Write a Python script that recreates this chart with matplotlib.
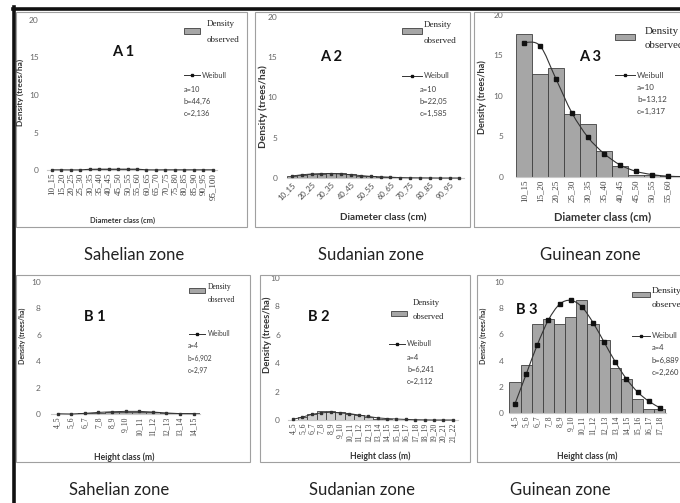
import numpy as np
import matplotlib.pyplot as plt
from matplotlib.patches import Rectangle, PathPatch
from matplotlib.path import Path
from matplotlib.lines import Line2D

# =========================
# DATA
# =========================
diam_classes = ['10_15', '15_20', '20_25', '25_30', '30_35', '35_40', '40_45', '45_50', '50_55',
                '55_60', '60_65', '65_70', '70_75', '75_80', '80_85', '85_90', '90_95', '95_100']
height_classes = ['4_5', '5_6', '6_7', '7_8', '8_9', '9_10', '10_11', '11_12', '12_13',
                  '13_14', '14_15', '15_16', '16_17', '17_18', '18_19', '19_20', '20_21', '21_22']

a1_obs = [0, 0, 0, 0, 0.1, 0.12, 0.12, 0.12, 0.12, 0.12, 0, 0, 0, 0, 0, 0, 0, 0]
a1_weib = [0.03, 0.03, 0.02, 0.02, 0.1, 0.12, 0.12, 0.12, 0.12, 0.12, 0.03, 0.02, 0.03, 0.03, 0.03, 0.03, 0.03, 0.03]
a2_obs = [0.3, 0.35, 0.55, 0.5, 0.6, 0.65, 0.45, 0.3, 0.2, 0.15, 0.1, 0.05, 0.05, 0.05, 0, 0, 0, 0]
a2_weib = [0.25, 0.4, 0.5, 0.55, 0.55, 0.5, 0.4, 0.3, 0.2, 0.15, 0.1, 0.05, 0.03, 0.02, 0.01, 0, 0, 0]
a3_obs = [17.7, 12.7, 13.5, 7.8, 6.5, 3.2, 1.3, 0.3, 0.2, 0.1, 0.05, 0, 0, 0, 0, 0, 0, 0]
a3_weib = [16.6, 16.2, 12.1, 7.9, 4.9, 2.9, 1.5, 0.7, 0.3, 0.1, 0.05, 0.02, 0, 0, 0, 0, 0, 0]

b1_obs = [0, 0, 0.05, 0.1, 0.12, 0.15, 0.18, 0.15, 0.08, 0.05, 0.05]
b1_weib = [0.02, 0.0, 0.05, 0.12, 0.17, 0.2, 0.2, 0.15, 0.08, 0.03, 0.02]
b2_obs = [0, 0.2, 0.4, 0.65, 0.6, 0.55, 0.45, 0.35, 0.2, 0.1, 0.05, 0.03, 0.02, 0, 0, 0, 0, 0]
b2_weib = [0.05, 0.2, 0.4, 0.5, 0.55, 0.5, 0.45, 0.35, 0.25, 0.15, 0.1, 0.07, 0.04, 0.02, 0.01, 0, 0, 0]
b3_obs = [2.4, 3.7, 6.8, 7.15, 6.8, 7.3, 8.65, 6.8, 5.6, 3.4, 2.6, 1.1, 0.3, 0.3]
b3_weib = [0.7, 2.95, 5.2, 7.1, 8.3, 8.6, 8.1, 6.9, 5.4, 3.9, 2.6, 1.6, 0.9, 0.4]

a1_params = ['a=10', 'b=44,76', 'c=2,136']
a2_params = ['a=10', 'b=22,05', 'c=1,585']
a3_params = ['a=10', 'b=13,12', 'c=1,317']
b1_params = ['a=4', 'b=6,902', 'c=2,97']
b2_params = ['a=4', 'b=6,241', 'c=2,112']
b3_params = ['a=4', 'b=6,889', 'c=2,260']

zones = ['Sahelian zone', 'Sudanian zone', 'Guinean zone']

# =========================
# HELPERS (pixel layout)
# =========================
W, H = 680, 503
SANS = 'Lato'
SERIF = 'Liberation Serif'
BAR = '#a6a6a6'
EDGE = '#3f3f3f'
TXT = '#404040'

fig = plt.figure(figsize=(W / 100, H / 100), dpi=100)


def fx(x):
    return x / W


def fy(y):
    return 1 - y / H


def ftext(x, y, s, **kw):
    kw.setdefault('family', SANS)
    kw.setdefault('va', 'center')
    fig.text(fx(x), fy(y), s, **kw)


def frame(x0, y0, x1, y1):
    fig.add_artist(Rectangle((fx(x0), fy(y1)), fx(x1) - fx(x0), fy(y0) - fy(y1),
                             transform=fig.transFigure, fill=False, ec='#a0a0a0', lw=0.8))


def smooth_line(ax, y, **kw):
    # Excel style smoothed line (Catmull-Rom -> cubic bezier)
    x = np.arange(len(y), dtype=float)
    p = np.column_stack([x, y])
    verts, codes = [p[0]], [Path.MOVETO]
    for i in range(len(p) - 1):
        p0 = p[max(i - 1, 0)]
        p3 = p[min(i + 2, len(p) - 1)]
        verts += [p[i] + (p[i + 1] - p0) / 6, p[i + 1] - (p3 - p[i]) / 6, p[i + 1]]
        codes += [Path.CURVE4] * 3
    ax.add_patch(PathPatch(Path(verts, codes), fill=False, **kw))


def panel(box, labels, obs, weib, ymax, step, tick_kw, ypad, bar_color=BAR, smooth=False, every=1):
    x0, y0, x1, y1 = box
    ax = fig.add_axes([fx(x0), fy(y1), fx(x1) - fx(x0), fy(y0) - fy(y1)])
    ax.patch.set_visible(False)
    n = len(obs)
    x = np.arange(n)
    ax.bar(x, obs, width=1.0, color=bar_color, edgecolor=EDGE, lw=0.6, zorder=2)
    if smooth:
        smooth_line(ax, weib, color='#333333', lw=0.8, zorder=3)
        ax.plot(x, weib, ls='none', marker='s', ms=2.2, color='#111111', zorder=4, clip_on=False)
    else:
        ax.plot(x, weib, color='#333333', lw=0.7, marker='s', ms=2.0, zorder=4, clip_on=False)
    ax.set_xlim(-0.5, n - 0.5)
    ax.set_ylim(0, ymax)
    ax.set_yticks(np.arange(0, ymax + 1, step))
    ax.set_xticks(x[::every])
    ax.set_xticklabels(labels[:n:every], **tick_kw)
    for s in ['top', 'right', 'left']:
        ax.spines[s].set_visible(False)
    ax.spines['bottom'].set_color('#c8c8c8')
    ax.spines['bottom'].set_linewidth(0.8)
    ax.tick_params(axis='y', length=0, pad=ypad, labelsize=6, labelcolor='#666666')
    ax.tick_params(axis='x', length=0, pad=2, labelcolor=TXT)
    for t in ax.get_yticklabels():
        t.set_family(SANS)
    return ax


def legend(px, py, tx, ty1, ty2, dsize, lx, ly, wx, ax_, ay, psize, params, pw=16, ph=5):
    fig.add_artist(Rectangle((fx(px), fy(py + ph / 2)), fx(pw), ph / H, transform=fig.transFigure,
                             fc=BAR, ec=EDGE, lw=0.6))
    ftext(tx, ty1, 'Density', family=SERIF, fontsize=dsize, color='#222222')
    ftext(tx, ty2, 'observed', family=SERIF, fontsize=dsize, color='#222222')
    fig.add_artist(Line2D([fx(lx), fx(lx + pw)], [fy(ly), fy(ly)], transform=fig.transFigure,
                          color='#333333', lw=0.7))
    fig.add_artist(Line2D([fx(lx + pw / 2)], [fy(ly)], transform=fig.transFigure,
                          marker='s', ms=2.0, color='#111111'))
    ftext(wx, ly, 'Weibull', fontsize=psize, color=TXT)
    for i, s in enumerate(params):
        ftext(ax_, ay + i * 12, s, fontsize=psize, color=TXT)


# =========================
# FRAME AND BOXES
# =========================
fig.add_artist(Line2D([fx(14), fx(14)], [0, fy(7)], transform=fig.transFigure, color='#111111', lw=2.6))
fig.add_artist(Line2D([fx(13), 1], [fy(9), fy(9)], transform=fig.transFigure, color='#111111', lw=2.6))
frame(16, 12, 247, 227)
frame(255, 12, 470, 227)
frame(474, 12, 690, 227)
frame(16, 275, 250, 462)
frame(260, 275, 470, 462)
frame(477, 275, 690, 462)

# =========================
# ROW A: diameter classes
# =========================
serif90 = dict(rotation=90, family=SERIF)
panel((47, 20, 217.5, 170), diam_classes, a1_obs, a1_weib, 20, 5,
      dict(serif90, fontsize=6.5), 6)
panel((287, 17, 464.3, 178), diam_classes, a2_obs, a2_weib, 20, 5,
      dict(rotation=45, ha='right', rotation_mode='anchor', family=SANS, fontsize=5.5), 7, every=2)
panel((516, 15, 804, 177), diam_classes, a3_obs, a3_weib, 20, 5,
      dict(serif90, fontsize=6.5), 9, smooth=True)

# =========================
# ROW B: height classes
# =========================
panel((50.7, 282, 200.3, 414), height_classes, b1_obs, b1_weib, 10, 2,
      dict(serif90, fontsize=5.5), 7)
panel((288.3, 278, 457.5, 420), height_classes, b2_obs, b2_weib, 10, 2,
      dict(serif90, fontsize=5.5), 6, bar_color='#cfcfcf')
panel((509.4, 282, 665.5, 413), height_classes, b3_obs, b3_weib, 10, 2,
      dict(serif90, fontsize=5.5), 4, smooth=True)

# =========================
# TEXTS
# =========================
ylab = 'Density (trees/ha)'
for x, y, s in [(20, 92, 6.0), (263, 107, 7.4), (482, 97, 6.6),
                (22, 336, 5.0), (267, 335, 6.8), (483, 336, 5.0)]:
    ftext(x, y, ylab, rotation=90, ha='center', fontsize=s, fontweight='bold', color='#333333')

for x, y, s, t in [(123, 220, 5.4, 'Diameter class (cm)'), (383, 218, 7.2, 'Diameter class (cm)'),
                   (603, 217, 8.0, 'Diameter class (cm)'), (124, 457, 6.2, 'Height class (m)'),
                   (380, 456, 6.2, 'Height class (m)'), (587, 456, 6.2, 'Height class (m)')]:
    ftext(x, y, t, ha='center', fontsize=s, fontweight='bold', color='#333333')

for x, y, t in [(123, 52, 'A 1'), (331, 57, 'A 2'), (590, 57, 'A 3'),
                (95, 317, 'B 1'), (319, 317, 'B 2'), (527, 310, 'B 3')]:
    ftext(x, y, t, ha='center', fontsize=10.5, fontweight='bold', color='#111111')

for (x, y), z in zip([(134, 255), (371, 255), (590, 255)], zones):
    ftext(x, y, z, ha='center', fontsize=12, color='#222222')
for (x, y), z in zip([(119, 490), (362, 490), (560, 490)], zones):
    ftext(x, y, z, ha='center', fontsize=12, color='#222222')

# legends
legend(184, 31, 207, 24, 40, 6.5, 184, 75, 202, 184, 89, 5.3, a1_params)
legend(402, 31, 424, 25, 41, 6.5, 402, 76, 424, 420, 89, 5.5, a2_params, pw=20)
legend(615, 37, 645, 31, 45, 7.8, 615, 75, 637, 637, 87, 5.8, a3_params, pw=20, ph=6)
legend(189, 290, 208, 287, 300, 5.5, 189, 334, 208, 188, 346, 4.8, b1_params)
legend(391, 313, 413, 303, 317, 6.2, 389, 344, 407, 407, 357, 5.3, b2_params)
legend(632, 294, 652, 291, 305, 6.8, 632, 336, 652, 652, 348, 5.5, b3_params, pw=18)

fig.savefig('out.png', dpi=100)
